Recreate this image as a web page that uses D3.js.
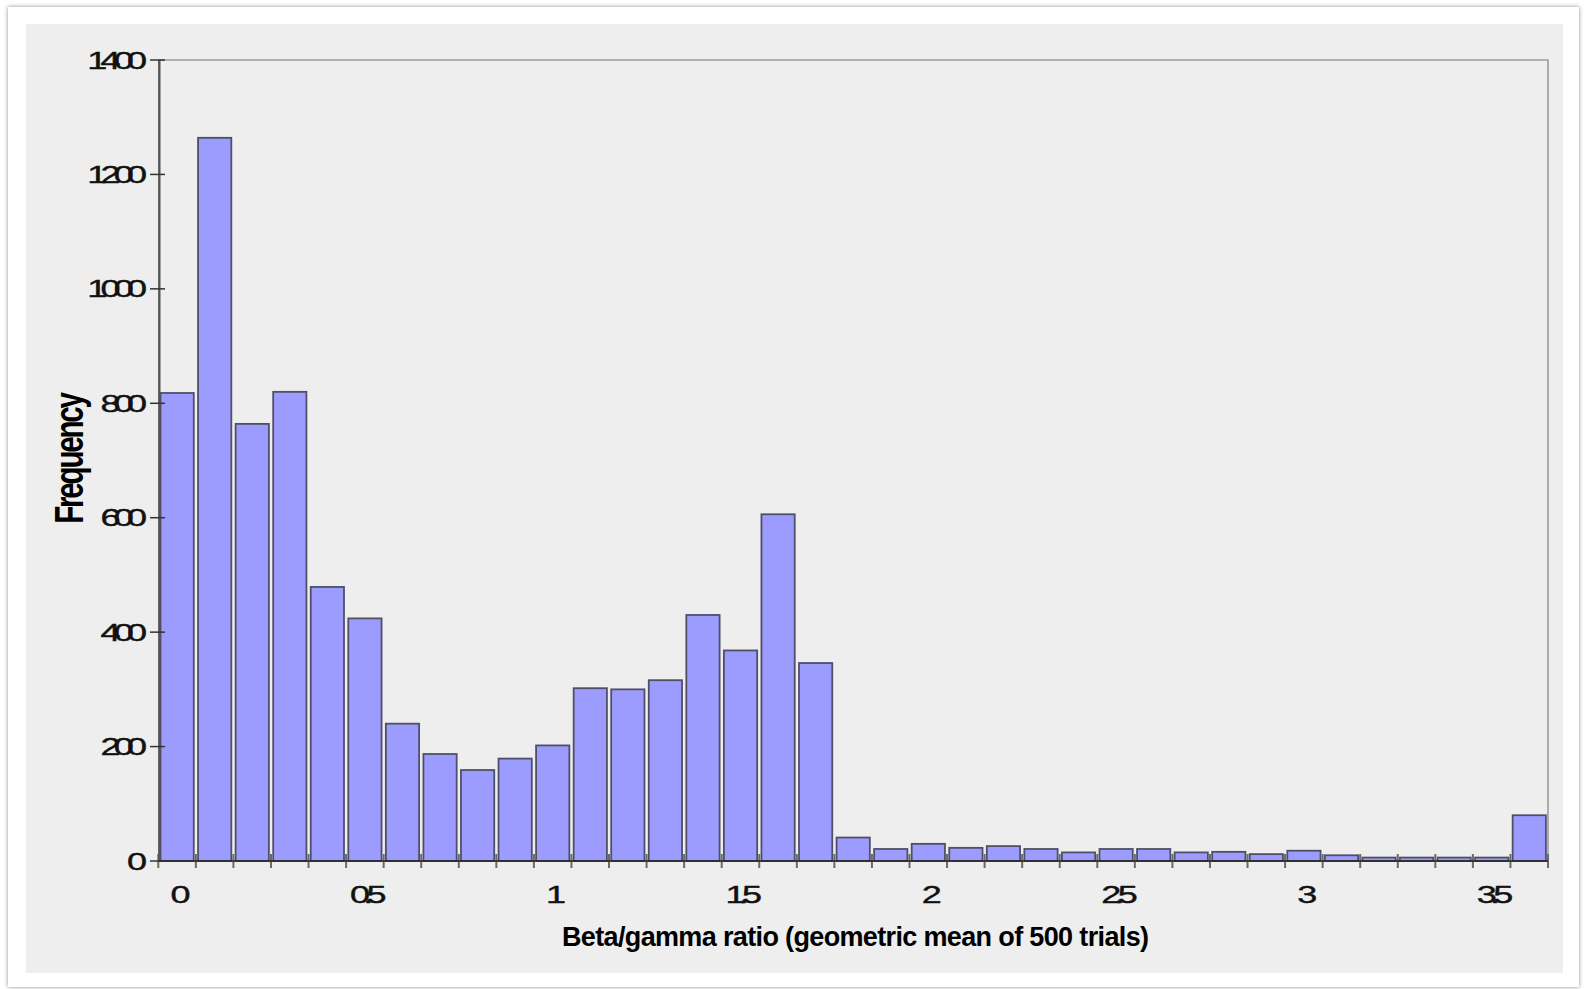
<!DOCTYPE html>
<html><head><meta charset="utf-8">
<script src="https://cdn.jsdelivr.net/npm/d3@7"></script>
<style>html,body{margin:0;padding:0;background:#fff;overflow:hidden}</style>
</head><body><svg id="c" width="1585" height="989"></svg>
<script>
// ---- data ----
const binCenters = [0,0.1,0.2,0.3,0.4,0.5,0.6,0.7,0.8,0.9,1.0,1.1,1.2,1.3,1.4,1.5,1.6,1.7,1.8,1.9,
                    2.0,2.1,2.2,2.3,2.4,2.5,2.6,2.7,2.8,2.9,3.0,3.1,3.2,3.3,3.4,3.5,3.6];
const frequencies = [818,1264,764,820,479,424,240,187,159,179,202,302,300,316,430,368,606,346,41,21,
                     30,23,26,21,15,21,21,15,16,12,18,10,6,6,6,6,80];
const binWidth = 0.1;
const yTickValues = [0,200,400,600,800,1000,1200,1400];
const xTickValues = [0,0.5,1,1.5,2,2.5,3,3.5];
const xTickLabels = ["0","0.5","1","1.5","2","2.5","3","3.5"];
const xTitle = "Beta/gamma ratio (geometric mean of 500 trials)";
const yTitle = "Frequency";

// ---- drawing ----
(function(){
const svg = d3.select("#c");
const defs = svg.append("defs");
const flt = defs.append("filter").attr("id","sh").attr("x","-2%").attr("y","-2%").attr("width","104%").attr("height","104%");
flt.append("feDropShadow").attr("dx",0).attr("dy",0).attr("stdDeviation",2.2)
   .attr("flood-color","#000").attr("flood-opacity",0.45);

svg.append("rect").attr("x",8).attr("y",7).attr("width",1571).attr("height",980)
   .attr("fill","#fff").attr("filter","url(#sh)");
svg.append("rect").attr("x",26).attr("y",24).attr("width",1537).attr("height",949).attr("fill","#eeeeee");

const pLeft = 158.3, pRight = 1548, pTop = 60, pBottom = 861;
const x = d3.scaleLinear()
  .domain([binCenters[0]-binWidth/2, binCenters[binCenters.length-1]+binWidth/2])
  .range([pLeft,pRight]);
const y = d3.scaleLinear().domain([0,1400]).range([pBottom,pTop]);

const FONT = "'Liberation Sans', Arial, sans-serif";

// frame top/right
svg.append("path")
  .attr("d", `M${pLeft},${pTop}H${pRight}V${pBottom}`)
  .attr("fill","none").attr("stroke","#9c9c9c").attr("stroke-width",1.6);

// bars
svg.append("g").selectAll("rect").data(binCenters).join("rect")
  .attr("x", (c)=> x(c-binWidth/2)+2.2)
  .attr("width", (c)=> x(c+binWidth/2)-x(c-binWidth/2)-4.3)
  .attr("y", (c,i)=> y(frequencies[i]))
  .attr("height", (c,i)=> y(0)-y(frequencies[i]))
  .attr("fill","#9c9cff").attr("stroke","#4f4f68").attr("stroke-width",1.8);

// x ticks at bin edges
const edges = binCenters.map(c=>c-binWidth/2).concat([binCenters[binCenters.length-1]+binWidth/2]);
svg.append("g").selectAll("line").data(edges).join("line")
  .attr("x1", d=>x(d)).attr("x2", d=>x(d))
  .attr("y1", pBottom-7).attr("y2", pBottom+7)
  .attr("stroke","#6a6a6a").attr("stroke-width",2);

// axes lines
svg.append("line").attr("x1",pLeft+1).attr("x2",pLeft+1).attr("y1",pTop).attr("y2",pBottom)
  .attr("stroke","#555").attr("stroke-width",2.4);
svg.append("line").attr("x1",pLeft).attr("x2",pRight).attr("y1",pBottom).attr("y2",pBottom)
  .attr("stroke","#222").attr("stroke-width",1.5);

// y ticks
svg.append("g").selectAll("line").data(yTickValues).join("line")
  .attr("x1",150).attr("x2",165).attr("y1",d=>y(d)).attr("y2",d=>y(d))
  .attr("stroke","#333").attr("stroke-width",1.5);

// y tick labels (horizontally stretched, tight spacing)
const SX = 1.5, LS = -4.5;
svg.append("g").selectAll("g").data(yTickValues).join("g")
  .attr("transform", d=>`translate(147,${y(d)})`)
  .append("text")
  .attr("transform",`scale(${SX},1)`)
  .attr("x", LS).attr("dy","0.36em")
  .attr("text-anchor","end")
  .attr("font-family",FONT).attr("font-size",24).attr("letter-spacing",LS+"px")
  .attr("fill","#111").attr("stroke","#111").attr("stroke-width",0.4)
  .text(d=>d);

// x tick labels
svg.append("g").selectAll("g").data(xTickValues).join("g")
  .attr("transform", d=>`translate(${x(d)},903)`)
  .append("text")
  .attr("transform",`scale(${SX},1)`)
  .attr("text-anchor","middle")
  .attr("font-family",FONT).attr("font-size",24).attr("letter-spacing",LS+"px")
  .attr("fill","#111").attr("stroke","#111").attr("stroke-width",0.4)
  .text((d,i)=>xTickLabels[i]);

// x title
svg.append("text")
  .attr("x",562).attr("y",946)
  .attr("font-family",FONT).attr("font-size",27).attr("font-weight","bold")
  .attr("textLength",587).attr("lengthAdjust","spacing")
  .attr("fill","#000")
  .text(xTitle);

// y title
svg.append("g").attr("transform","translate(83,459) rotate(-90)")
  .append("text")
  .attr("transform","scale(0.74,1)")
  .attr("text-anchor","middle")
  .attr("font-family",FONT).attr("font-size",40).attr("font-weight","bold")
  .attr("letter-spacing","-3px")
  .attr("fill","#000")
  .text(yTitle);
})();
</script>
</body></html>
